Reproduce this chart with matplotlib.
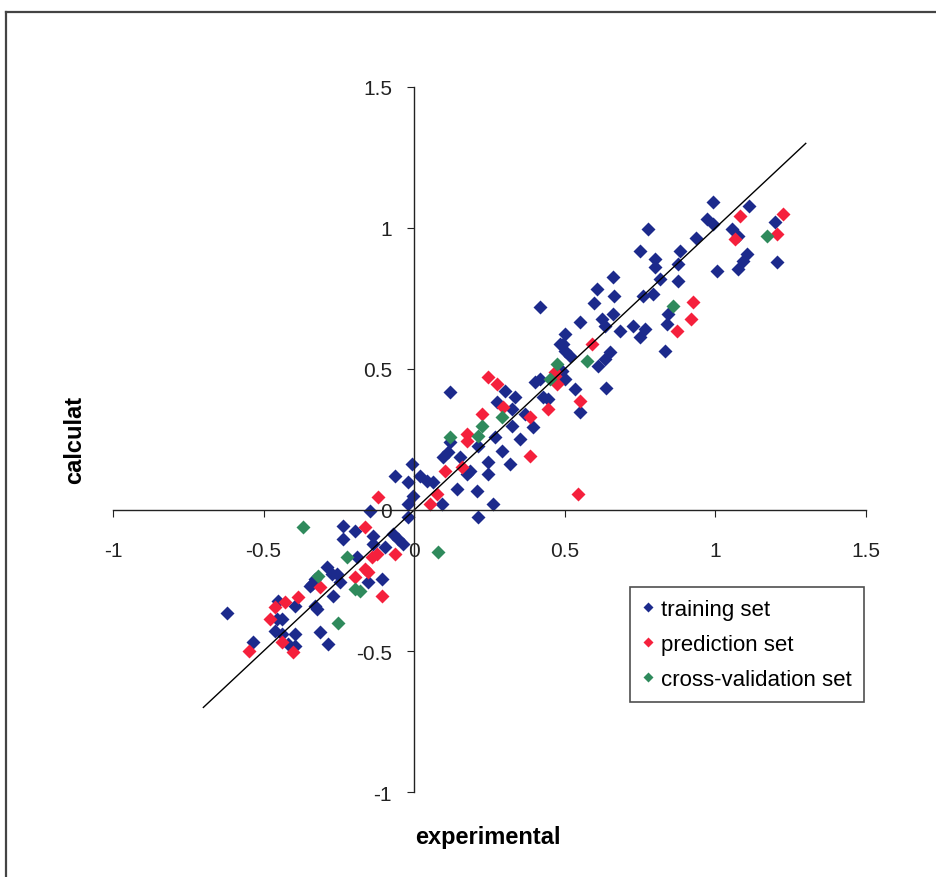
import matplotlib.pyplot as plt
from matplotlib.lines import Line2D

plt.rcParams['font.family'] = ['Liberation Sans', 'DejaVu Sans']

# training set (experimental, calculated)
train_x = [-0.62, -0.535, -0.146, -0.236, -0.196, -0.136, -0.07, -0.053, -0.037, -0.236,
           -0.136, -0.096, -0.189, -0.289, -0.272, -0.329, -0.346, -0.106, -0.153, -0.269,
           -0.329, -0.452, -0.395, -0.455, -0.439, -0.462, -0.439, -0.395, -0.312, -0.419,
           -0.286, -0.395, -0.339, -0.256, -0.246, -0.322,
           0.485, 0.502, 0.518, 0.402, 0.419, 0.502, 0.535, 0.12, 0.302, 0.336,
           0.276, 0.326, 0.429, 0.445, 0.551, 0.369, 0.395, 0.326, 0.12, 0.269,
           0.213, 0.352, 0.292, 0.096, 0.153, 0.113, 0.246, 0.186, 0.319, 0.246,
           0.176, -0.063, -0.007, 0.02, -0.02, 0.043, 0.063, 0.143, 0.209, -0.003,
           -0.02, 0.093, 0.262, 0.213, -0.02,
           0.993, 1.11, 1.199, 0.973, 0.993, 1.056, 1.076, 0.777, 0.934, 0.751,
           0.884, 0.801, 0.801, 0.877, 1.106, 1.093, 1.076, 1.206, 1.007, 0.661,
           0.817, 0.877, 0.608, 0.664, 0.761, 0.794, 0.598, 0.844, 0.841, 0.419,
           0.551, 0.625, 0.661, 0.635, 0.728, 0.684, 0.767, 0.751, 0.502, 0.495,
           0.651, 0.635, 0.611, 0.834, 0.638, 0.492]
train_y = [-0.365, -0.468, -0.004, -0.057, -0.074, -0.092, -0.085, -0.103, -0.121, -0.103,
           -0.121, -0.131, -0.167, -0.202, -0.227, -0.245, -0.27, -0.245, -0.255, -0.305,
           -0.34, -0.323, -0.34, -0.387, -0.387, -0.429, -0.44, -0.44, -0.433, -0.475,
           -0.475, -0.482, -0.262, -0.227, -0.255, -0.351,
           0.589, 0.564, 0.546, 0.454, 0.465, 0.465, 0.429, 0.418, 0.422, 0.401,
           0.383, 0.358, 0.401, 0.394, 0.348, 0.34, 0.294, 0.298, 0.241, 0.259,
           0.227, 0.252, 0.209, 0.188, 0.188, 0.206, 0.17, 0.138, 0.163, 0.128,
           0.128, 0.121, 0.163, 0.121, 0.099, 0.103, 0.099, 0.074, 0.067, 0.05,
           0.021, 0.021, 0.021, -0.025, -0.025,
           1.092, 1.078, 1.021, 1.032, 1.014, 0.996, 0.972, 0.996, 0.965, 0.918,
           0.918, 0.89, 0.862, 0.872, 0.908, 0.883, 0.855, 0.879, 0.848, 0.826,
           0.819, 0.812, 0.784, 0.759, 0.759, 0.766, 0.734, 0.695, 0.66, 0.72,
           0.667, 0.677, 0.695, 0.652, 0.652, 0.635, 0.642, 0.613, 0.624, 0.589,
           0.56, 0.535, 0.511, 0.564, 0.433, 0.493]

# prediction set
pred_x = [-0.12, 0.053, 0.076, -0.163, -0.123, -0.14, -0.063, -0.163, -0.153, -0.312,
          -0.196, -0.106, -0.429, -0.385, -0.462, -0.478, -0.439, -0.402, -0.548,
          0.591, 0.246, 0.276, 0.468, 0.296, 0.226, 0.445, 0.551, 0.385, 0.176,
          0.176, 0.159, 0.103, 0.385, 0.545,
          1.083, 1.223, 1.066, 1.206, 0.927, 0.92, 0.874, 0.475, 0.468]
pred_y = [0.046, 0.021, 0.057, -0.06, -0.156, -0.167, -0.156, -0.209, -0.22, -0.273,
          -0.238, -0.305, -0.326, -0.309, -0.344, -0.387, -0.468, -0.504, -0.5,
          0.589, 0.472, 0.447, 0.475, 0.365, 0.34, 0.358, 0.387, 0.33, 0.27,
          0.245, 0.152, 0.138, 0.191, 0.057,
          1.043, 1.05, 0.961, 0.979, 0.738, 0.677, 0.635, 0.447, 0.489]

# cross-validation set
cv_x = [-0.369, 0.08, -0.223, -0.319, -0.196, -0.179, -0.252, 0.575, 0.475, 0.452,
        0.292, 0.226, 0.213, 0.12, 0.86, 1.173]
cv_y = [-0.06, -0.149, -0.167, -0.234, -0.28, -0.287, -0.401, 0.528, 0.518, 0.465,
        0.33, 0.298, 0.262, 0.259, 0.723, 0.972]

ticks = [-1, -0.5, 0, 0.5, 1, 1.5]
tick_labels = ['-1', '-0.5', '0', '0.5', '1', '1.5']

fig = plt.figure(figsize=(9.37, 8.78), dpi=100)
ax = fig.add_axes([0.1206, 0.0968, 0.8036, 0.803])

ms = 7.6
ax.plot(train_x, train_y, 'D', color='#1c2a8c', ms=ms, mec='none', label='training set')
ax.plot(pred_x, pred_y, 'D', color='#f5203c', ms=ms, mec='none', label='prediction set')
ax.plot(cv_x, cv_y, 'D', color='#2f8a5c', ms=ms, mec='none', label='cross-validation set')

ax.plot([-0.7, 1.3], [-0.7, 1.3], color='black', lw=1.0)

ax.set_xlim(-1, 1.5)
ax.set_ylim(-1, 1.5)
ax.spines['left'].set_position(('data', 0))
ax.spines['bottom'].set_position(('data', 0))
ax.spines['top'].set_visible(False)
ax.spines['right'].set_visible(False)
for s in ['left', 'bottom']:
    ax.spines[s].set_linewidth(1.0)
    ax.spines[s].set_color('#222222')

ax.set_xticks(ticks)
ax.set_xticklabels(tick_labels)
ax.set_yticks(ticks)
ax.set_yticklabels(tick_labels)
ax.tick_params(axis='x', direction='out', length=5, pad=17, labelsize=15, colors='#222222')
ax.tick_params(axis='y', direction='out', length=5, pad=11, labelsize=15, colors='#222222')
ax.patch.set_alpha(0)

leg = fig.legend(loc='upper left', bbox_to_anchor=(630 / 937, 1 - 588 / 878),
                 fontsize=16, frameon=True, fancybox=False, handlelength=0.5,
                 handletextpad=0.35, labelspacing=0.62, borderpad=0.55,
                 markerscale=0.7, borderaxespad=0)
leg.get_frame().set_edgecolor('#222222')
leg.get_frame().set_linewidth(1.2)

fig.text(0.521, 0.0456, 'experimental', ha='center', va='center',
         fontsize=17, fontweight='bold')
fig.text(0.080, 0.499, 'calculat', ha='center', va='center', rotation=90,
         fontsize=17, fontweight='bold')

# frame of the chart area (top and left edges visible)
fig.add_artist(Line2D([6 / 937, 1], [1 - 13 / 878, 1 - 13 / 878], color='#444444', lw=1.6))
fig.add_artist(Line2D([6 / 937, 6 / 937], [0, 1 - 13 / 878], color='#444444', lw=1.6))

fig.savefig('out.png', dpi=100)
